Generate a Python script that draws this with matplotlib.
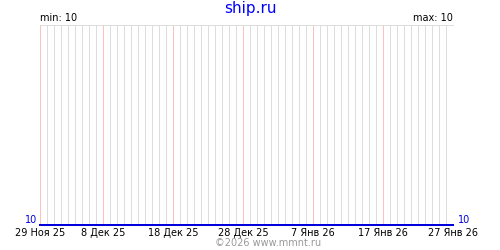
import matplotlib
matplotlib.use("Agg")
import matplotlib.pyplot as plt
import matplotlib.dates as mdates
import numpy as np
import datetime as dt

title = "ship.ru"
start_date = "2025-11-29"
end_date = "2026-01-27"
values = [10, 10, 10, 10, 10, 10, 10, 10, 10, 10,
          10, 10, 10, 10, 10, 10, 10, 10, 10, 10,
          10, 10, 10, 10, 10, 10, 10, 10, 10, 10,
          10, 10, 10, 10, 10, 10, 10, 10, 10, 10,
          10, 10, 10, 10, 10, 10, 10, 10, 10, 10,
          10, 10, 10, 10, 10, 10, 10, 10, 10, 10]
tick_labels = ["29 Ноя 25", "8 Дек 25", "18 Дек 25", "28 Дек 25",
               "7 Янв 26", "17 Янв 26", "27 Янв 26"]
tick_dates = ["2025-11-29", "2025-12-08", "2025-12-18", "2025-12-28",
              "2026-01-07", "2026-01-17", "2026-01-27"]
min_label = "min: 10"
max_label = "max: 10"
copyright_text = "©2026 www.mmnt.ru"

day0 = dt.date.fromisoformat(start_date)
dates = [day0 + dt.timedelta(days=i) for i in range(len(values))]
xd = mdates.date2num(dates)
tick_x = mdates.date2num([dt.date.fromisoformat(d) for d in tick_dates])

fig = plt.figure(figsize=(5, 2.5), dpi=100)
ax = fig.add_axes([40/500, 25/250, 413/500, 200/250])

ax.set_xlim(xd[0], mdates.date2num(dt.date.fromisoformat(end_date)))
ax.set_ylim(10, 11)

# daily gray gridlines, pink at label dates
for x in xd:
    is_major = any(abs(x - t) < 1e-6 for t in tick_x)
    ax.axvline(x, color="#ffc0c0" if is_major else "#dddddd",
               linewidth=0.72, antialiased=False,
               zorder=2 if is_major else 1)
ax.set_xticks(tick_x)
ax.set_xticklabels(tick_labels)
ax.tick_params(axis="x", which="both", length=0, pad=2, labelsize=7, colors="black")
ax.set_yticks([])

for s in ["left", "right", "bottom"]:
    ax.spines[s].set_visible(False)
ax.spines["top"].set_color("#dddddd")
ax.spines["top"].set_linewidth(0.72)
ax.spines["top"].set_antialiased(False)

ax.plot(xd, values, color="#0000dd", linewidth=1.44, antialiased=False,
        clip_on=False, zorder=3)

fig.text(0.5, 1 - 9/250, title, color="#0000ff", fontsize=11, ha="center", va="center")
fig.text(40/500, 1 - 18/250, min_label, fontsize=7, ha="left", va="center")
fig.text(453/500, 1 - 18/250, max_label, fontsize=7, ha="right", va="center")
ax.text(-0.007, 0, str(values[0]), transform=ax.transAxes, color="#0000dd",
        fontsize=7, ha="right", va="bottom")
ax.text(1.012, 0, str(values[-1]), transform=ax.transAxes, color="#0000dd",
        fontsize=7, ha="left", va="bottom")
fig.text(268/500, 1 - 243/250, copyright_text, color="#999999", fontsize=7,
         ha="center", va="center")

fig.savefig("out.png", dpi=100)
